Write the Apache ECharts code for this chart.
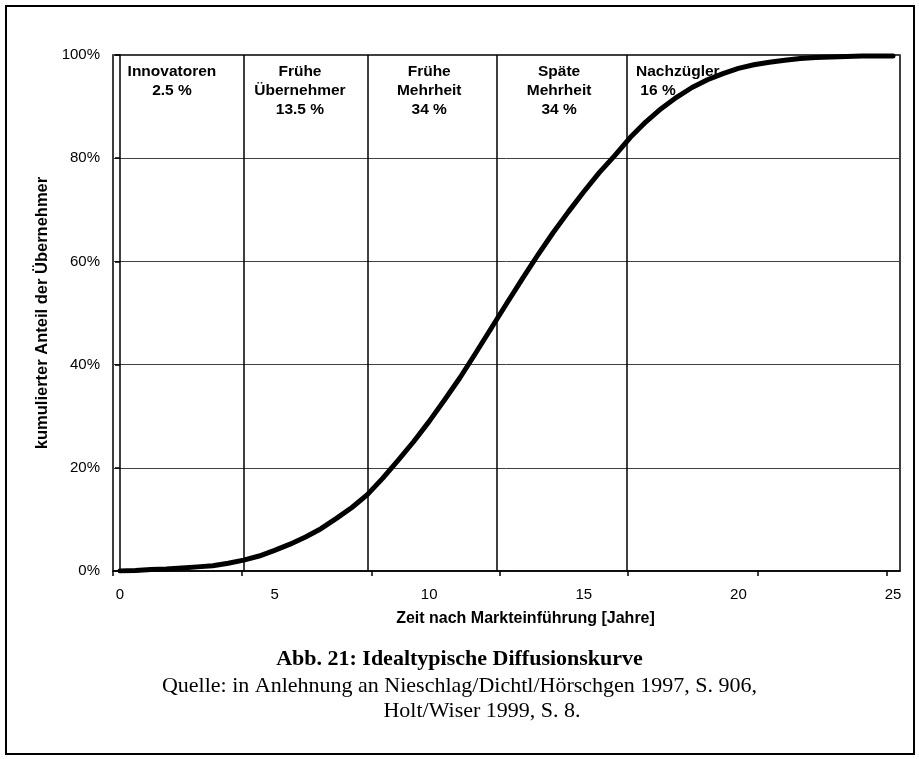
<!DOCTYPE html>
<html>
<head>
<meta charset="utf-8">
<script src="https://cdn.jsdelivr.net/npm/echarts@6/dist/echarts.min.js"></script>
<style>
html,body{margin:0;padding:0;background:#fff;}
#chart{width:919px;height:759px;}
</style>
</head>
<body>
<div id="chart"></div>
<script>
// Years after market launch
const years = [0,0.5,1,1.5,2,2.5,3,3.5,4,4.5,5,5.5,6,6.5,7,7.5,8,8.5,9,9.5,10,10.5,11,11.5,12,12.5,13,13.5,14,14.5,15,15.5,16,16.5,17,17.5,18,18.5,19,19.5,20,20.5,21,21.5,22,22.5,23,23.5,24,24.5,25];
// Cumulative share of adopters (%)
const share = [0.0,0.1,0.3,0.4,0.6,0.8,1.0,1.5,2.1,2.9,4.0,5.2,6.6,8.2,10.2,12.3,14.8,18.0,21.5,25.1,29.0,33.2,37.5,42.2,47.0,51.8,56.5,61.1,65.5,69.6,73.5,77.2,80.5,84.0,87.0,89.6,91.8,93.7,95.2,96.4,97.4,98.1,98.6,99.0,99.3,99.5,99.6,99.7,99.8,99.8,99.8];
// Adopter category boundaries (years)
const boundaries = [4.0, 8.0, 12.2, 16.4];
// Adopter category labels
const segmentTexts = ['Innovatoren\n2.5 %', 'Frühe\nÜbernehmer\n13.5 %', 'Frühe\nMehrheit\n34 %', 'Späte\nMehrheit\n34 %', 'Nachzügler\n 16 %'];
const segmentX = [1.68, 5.82, 10.0, 14.2, 16.69];
const segmentY = 98.6;
// Axis tick labels / tick marks
const xLabelValues = [0, 5, 10, 15, 20, 25];
const xTickValues = [-0.2264, 3.946, 8.150, 12.290, 16.43, 20.634, 24.806];
const yMin = 0, yMax = 100, yStep = 20;
const xMin = -0.2264, xMax = 25.2264;

const titleText = 'Abb. 21: Idealtypische Diffusionskurve';
const sourceLine1 = 'Quelle: in Anlehnung an Nieschlag/Dichtl/Hörschgen 1997, S. 906,';
const sourceLine2 = 'Holt/Wiser 1999, S. 8.';

const chart = echarts.init(document.getElementById('chart'), null, {renderer: 'canvas'});
const font = 'Liberation Sans, Arial, sans-serif';
const serif = '"Liberation Serif", "Times New Roman", serif';

const option = {
  animation: false,
  backgroundColor: '#fff',
  textStyle: {fontFamily: font, color: '#000'},
  grid: {left: 113, right: 19, top: 55, bottom: 188, show: true, borderColor: '#000', borderWidth: 1.5},
  xAxis: {
    type: 'value', min: xMin, max: xMax,
    name: 'Zeit nach Markteinführung [Jahre]',
    nameLocation: 'middle', nameGap: 40,
    nameTextStyle: {fontFamily: font, fontSize: 16, fontWeight: 'bold', color: '#000', padding: [0, 0, 0, 38]},
    axisLine: {show: true, onZero: false, lineStyle: {color: '#000', width: 1.5}},
    axisTick: {show: true, length: 5, inside: false, customValues: xTickValues, lineStyle: {color: '#000', width: 1.5}},
    axisLabel: {show: true, customValues: xLabelValues, margin: 16, fontSize: 15, fontFamily: font, color: '#000'},
    splitLine: {show: false}
  },
  yAxis: {
    type: 'value', min: yMin, max: yMax, interval: yStep,
    name: 'kumulierter Anteil der Übernehmer',
    nameLocation: 'middle', nameGap: 47,
    nameTextStyle: {fontFamily: font, fontSize: 16.5, fontWeight: 'bold', color: '#000'},
    axisLine: {show: true, lineStyle: {color: '#000', width: 1.5}},
    axisTick: {show: true, length: 5, lineStyle: {color: '#000', width: 1.5}},
    axisLabel: {margin: 13, fontSize: 15, fontFamily: font, color: '#000', formatter: '{value}%'},
    splitLine: {show: true, lineStyle: {color: '#404040', width: 1}}
  },
  series: [
    {
      type: 'line', data: [], z: 1, silent: true,
      markLine: {
        silent: true, symbol: 'none', animation: false,
        label: {show: false},
        lineStyle: {color: '#000', width: 1.5, type: 'solid'},
        data: boundaries.map(v => ({xAxis: v}))
      }
    },
    {
      type: 'line', z: 3, silent: true,
      data: years.map((x, i) => [x, share[i]]),
      showSymbol: false, symbol: 'none',
      lineStyle: {color: '#000', width: 5, join: 'round', cap: 'round'}
    },
    {
      type: 'scatter', z: 4, silent: true, symbolSize: 0,
      itemStyle: {opacity: 1},
      data: segmentX.map((x, i) => ({
        value: [x, segmentY],
        label: {
          show: true, position: 'bottom', distance: 0,
          formatter: segmentTexts[i],
          align: i === 4 ? 'left' : 'center',
          fontFamily: font, fontSize: 15.5, fontWeight: 'bold', color: '#000', lineHeight: 19, opacity: 1
        }
      }))
    }
  ],
  graphic: [
    {type: 'rect', shape: {x: 6, y: 6, width: 908, height: 748}, style: {fill: 'none', stroke: '#000', lineWidth: 2}, silent: true},
    {type: 'text', x: 459.5, y: 659, style: {text: titleText, font: 'bold 22px ' + serif, fill: '#000', textAlign: 'center', textVerticalAlign: 'middle'}},
    {type: 'text', x: 459.5, y: 686, style: {text: sourceLine1, font: '22px ' + serif, fill: '#000', textAlign: 'center', textVerticalAlign: 'middle'}},
    {type: 'text', x: 482, y: 711, style: {text: sourceLine2, font: '22px ' + serif, fill: '#000', textAlign: 'center', textVerticalAlign: 'middle'}}
  ]
};
chart.setOption(option);
</script>
</body>
</html>
